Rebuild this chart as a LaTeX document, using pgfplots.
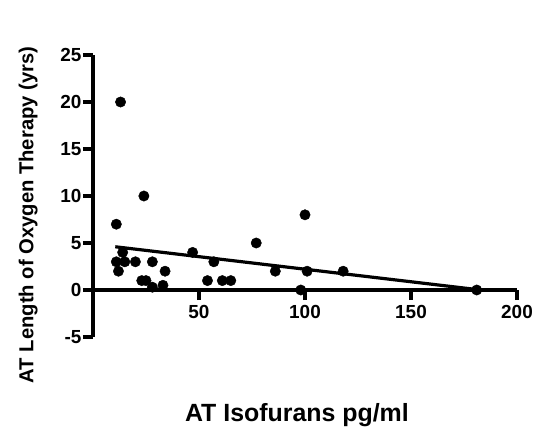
\documentclass[border=0pt]{standalone}
\usepackage{pgfplots}
\pgfplotsset{compat=1.18}
\usepackage{fontspec}
\setmainfont{Liberation Sans}
\begin{document}
\begin{tikzpicture}
\useasboundingbox (-93bp,-98bp) rectangle (442bp,337bp);
\begin{axis}[
  at={(0,0)}, anchor=south west,
  scale only axis, width=424bp, height=282bp,
  xmin=0, xmax=200, ymin=-5, ymax=25,
  axis y line=left, axis x line=middle,
  axis line style={line width=3.5bp, -},
  hide obscured x ticks=false, hide obscured y ticks=false,
  xtick={50,100,150,200}, ytick={-5,0,5,10,15,20,25},
  tick align=outside, major tick length=10bp,
  every tick/.style={line width=3.5bp, black},
  tick label style={font=\fontsize{19}{19}\selectfont\bfseries},
  /pgf/number format/assume math mode=true,
  xticklabel style={yshift=-2bp},
  yticklabel style={xshift=2bp},
  every axis x label/.style={at={(axis description cs:0.481,-0.2766)}, anchor=center, font=\fontsize{25}{25}\selectfont\bfseries},
  every axis y label/.style={at={(axis description cs:-0.153,0.4326)}, anchor=center, rotate=90, font=\fontsize{20.3}{20.3}\selectfont\bfseries},
  xlabel={AT Isofurans pg/ml},
  ylabel={AT Length of Oxygen Therapy (yrs)},
  clip=false,
]
\addplot[only marks, mark=*, mark size=5.2bp, black] coordinates {
(13,20) (24,10) (11,7) (77,5) (47,4) (14,4) (11,3) (15,3) (20,3) (28,3) (57,3)
(12,2) (34,2) (86,2) (101,2) (118,2) (23,1) (25,1) (54,1) (61,1) (65,1)
(28,0.3) (33,0.5) (98,0) (181,0) (100,8)
};
\addplot[black, line width=3.2bp, no marks] coordinates {(10.5,4.6) (181,0.05)};
\end{axis}
\end{tikzpicture}
\end{document}
